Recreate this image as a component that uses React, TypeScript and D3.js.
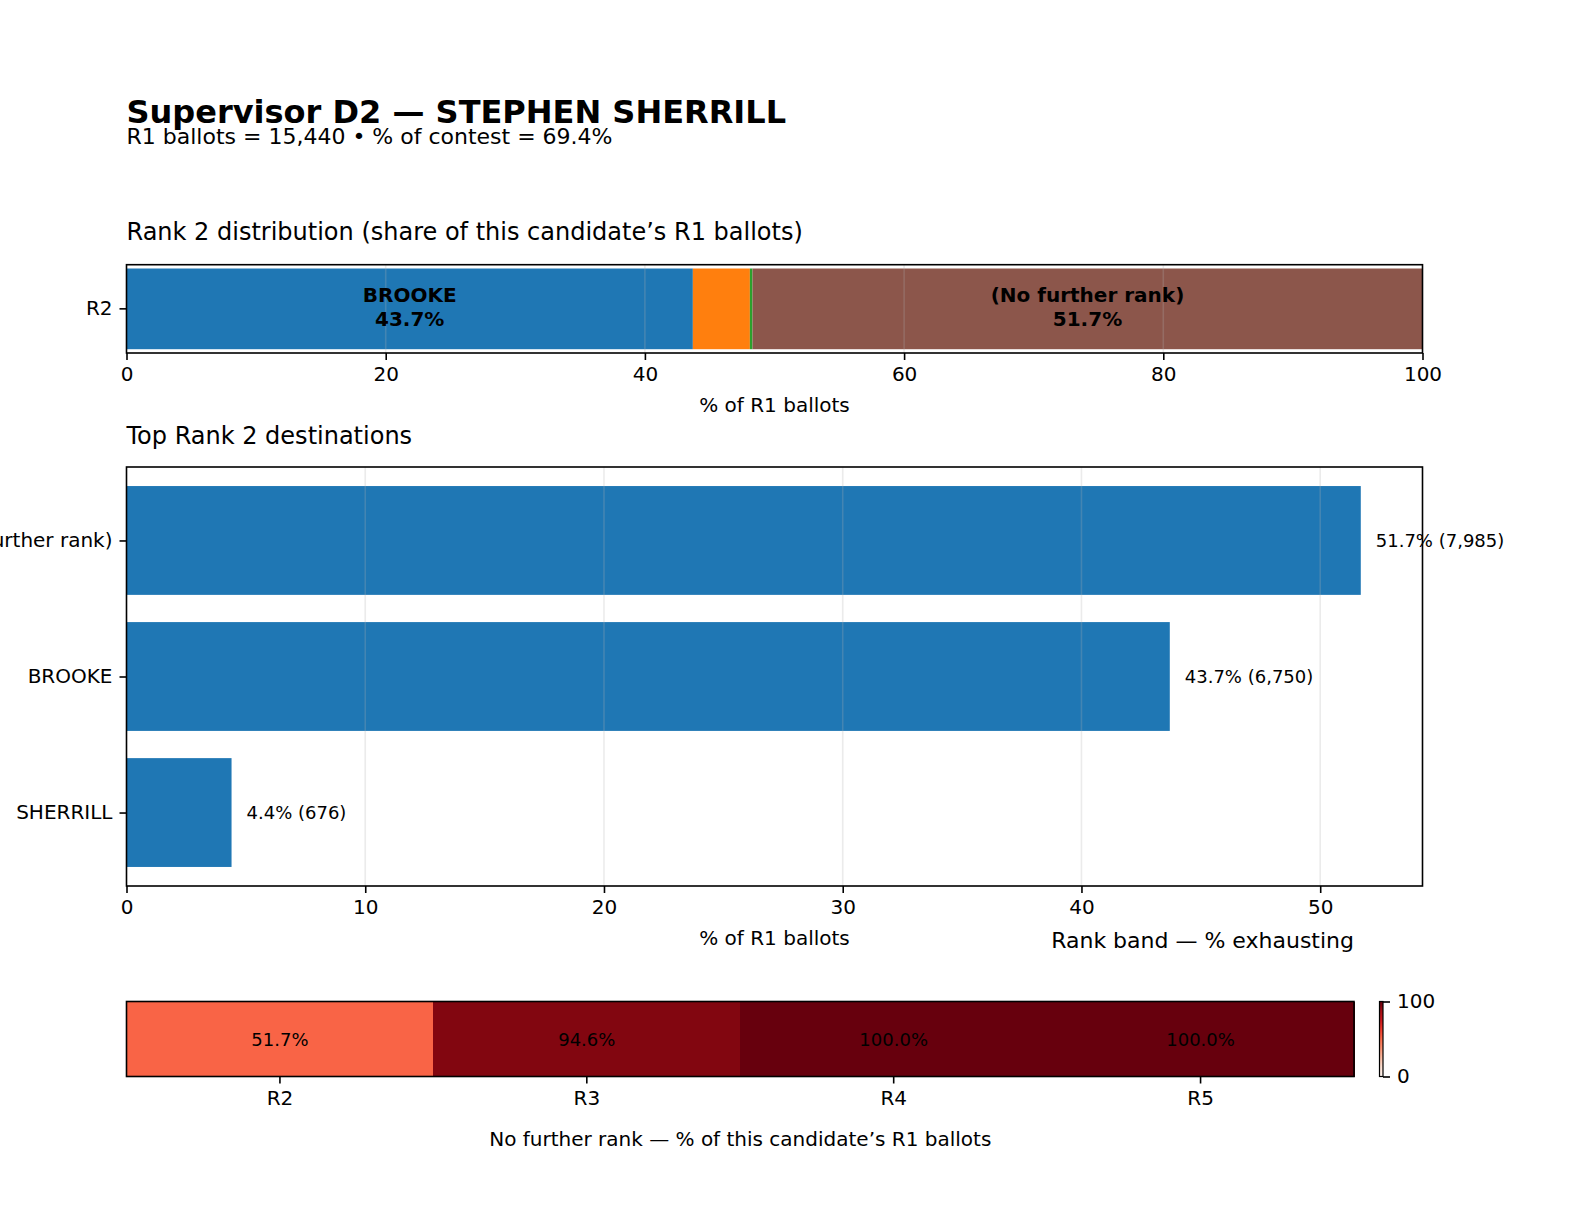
import { useEffect, useRef } from "react";
import * as d3 from "d3";

// title / header
const titleText = "Supervisor D2 — STEPHEN SHERRILL";
const subtitleText = "R1 ballots = 15,440 • % of contest = 69.4%";

// rank 2 distribution (stacked bar)
const r2Categories = ["BROOKE", "SHERRILL", "(Other)", "(No further rank)"];
const r2Shares = [43.7, 4.4, 0.2, 51.7];
const r2Colors = ["#1f77b4", "#ff7f0e", "#2ca02c", "#8c564b"];

// top rank 2 destinations
const topNames = ["(No further rank)", "BROOKE", "SHERRILL"];
const topShares = [51.7, 43.7, 4.4];
const topCounts = [7985, 6750, 676];

// exhausting by rank band
const bands = ["R2", "R3", "R4", "R5"];
const bandExhaust = [51.7, 94.6, 100, 100];

const redsStops = ["#fff5f0", "#fee0d2", "#fcbba1", "#fc9272", "#fb6a4a", "#ef3b2c", "#cb181d", "#a50f15", "#67000d"];

export default function App() {
  const svgRef = useRef<SVGSVGElement | null>(null);

  useEffect(() => {
    const width = 1584;
    const height = 1224;
    const font = "DejaVu Sans, sans-serif";
    const left = 126.5;
    const right = 1422.5;
    const tickLen = 7;
    const spineW = 1.6;
    const tickFont = 20;

    const svg = d3.select(svgRef.current).attr("width", width).attr("height", height);
    svg.selectAll("*").remove();
    svg.append("rect").attr("width", width).attr("height", height).attr("fill", "white");

    const txt = (x: number, y: number, s: string, size: number, anchor = "start", weight = "normal") =>
      svg
        .append("text")
        .attr("x", x)
        .attr("y", y)
        .attr("font-family", font)
        .attr("font-size", size)
        .attr("font-weight", weight)
        .attr("text-anchor", anchor)
        .attr("fill", "black")
        .text(s);

    // header
    txt(left, 123, titleText, 32, "start", "bold");
    txt(left, 144, subtitleText, 22);

    // ---------- Rank 2 distribution ----------
    txt(left, 240, "Rank 2 distribution (share of this candidate\u2019s R1 ballots)", 24);
    const t1 = { top: 264.7, bottom: 353 };
    const x1 = d3.scaleLinear().domain([0, 100]).range([left, right]);
    const ends = Array.from(d3.cumsum(r2Shares));
    const starts = ends.map((e, i) => e - r2Shares[i]);
    const g1 = svg.append("g");
    g1.selectAll("rect.seg")
      .data(r2Shares)
      .join("rect")
      .attr("class", "seg")
      .attr("x", (_, i) => x1(starts[i]))
      .attr("y", t1.top + 3.8)
      .attr("width", (_, i) => x1(ends[i]) - x1(starts[i]))
      .attr("height", t1.bottom - t1.top - 7.6)
      .attr("fill", (_, i) => r2Colors[i]);
    // grid
    g1.selectAll("line.grid")
      .data([20, 40, 60, 80])
      .join("line")
      .attr("x1", d => x1(d))
      .attr("x2", d => x1(d))
      .attr("y1", t1.top)
      .attr("y2", t1.bottom)
      .attr("stroke", "#b0b0b0")
      .attr("stroke-opacity", 0.25)
      .attr("stroke-width", 1.6);
    // inner labels
    const cy1 = (t1.top + t1.bottom) / 2;
    r2Shares.forEach((v, i) => {
      if (v < 10) return;
      const cx = x1(starts[i] + v / 2);
      txt(cx, cy1 - 7, r2Categories[i], 20, "middle", "bold");
      txt(cx, cy1 + 17.5, `${v.toFixed(1)}%`, 20, "middle", "bold");
    });
    g1.append("rect")
      .attr("x", left)
      .attr("y", t1.top)
      .attr("width", right - left)
      .attr("height", t1.bottom - t1.top)
      .attr("fill", "none")
      .attr("stroke", "black")
      .attr("stroke-width", spineW);
    const ax1 = g1
      .append("g")
      .attr("transform", `translate(0,${t1.bottom})`)
      .call(d3.axisBottom(x1).tickValues([0, 20, 40, 60, 80, 100]).tickSize(tickLen).tickPadding(7).tickFormat(d3.format("d")));
    ax1.select(".domain").remove();
    const ay1 = g1
      .append("g")
      .attr("transform", `translate(${left},0)`)
      .call(d3.axisLeft(d3.scaleBand().domain(["R2"]).range([t1.top, t1.bottom])).tickSize(tickLen).tickPadding(7));
    ay1.select(".domain").remove();
    txt((left + right) / 2, 412, "% of R1 ballots", tickFont, "middle");

    // ---------- Top Rank 2 destinations ----------
    txt(left, 444, "Top Rank 2 destinations", 24);
    const t2 = { top: 467, bottom: 886 };
    const x2 = d3.scaleLinear().domain([0, d3.max(topShares)! * 1.05]).range([left, right]);
    const y2 = d3.scaleLinear().domain([-0.54, topNames.length - 1 + 0.54]).range([t2.top, t2.bottom]);
    const g2 = svg.append("g");
    g2.selectAll("rect.bar")
      .data(topShares)
      .join("rect")
      .attr("class", "bar")
      .attr("x", x2(0))
      .attr("y", (_, i) => y2(i - 0.4))
      .attr("width", d => x2(d) - x2(0))
      .attr("height", y2(0.8) - y2(0))
      .attr("fill", "#1f77b4");
    g2.selectAll("line.grid")
      .data([10, 20, 30, 40, 50])
      .join("line")
      .attr("x1", d => x2(d))
      .attr("x2", d => x2(d))
      .attr("y1", t2.top)
      .attr("y2", t2.bottom)
      .attr("stroke", "#b0b0b0")
      .attr("stroke-opacity", 0.25)
      .attr("stroke-width", 1.6);
    g2.append("rect")
      .attr("x", left)
      .attr("y", t2.top)
      .attr("width", right - left)
      .attr("height", t2.bottom - t2.top)
      .attr("fill", "none")
      .attr("stroke", "black")
      .attr("stroke-width", spineW);
    topShares.forEach((v, i) => {
      txt(x2(v) + 15, y2(i), `${v.toFixed(1)}% (${d3.format(",")(topCounts[i])})`, 18).attr(
        "dominant-baseline",
        "central"
      );
    });
    const ax2 = g2
      .append("g")
      .attr("transform", `translate(0,${t2.bottom})`)
      .call(d3.axisBottom(x2).tickValues([0, 10, 20, 30, 40, 50]).tickSize(tickLen).tickPadding(7).tickFormat(d3.format("d")));
    ax2.select(".domain").remove();
    const ay2 = g2
      .append("g")
      .attr("transform", `translate(${left},0)`)
      .call(
        d3
          .axisLeft(y2)
          .tickValues(d3.range(topNames.length))
          .tickFormat(d => topNames[d as number])
          .tickSize(tickLen)
          .tickPadding(7)
      );
    ay2.select(".domain").remove();
    txt((left + right) / 2, 945, "% of R1 ballots", tickFont, "middle");

    // ---------- Rank band heatmap ----------
    const t3 = { top: 1001.5, bottom: 1076.5, right: 1354 };
    txt(t3.right, 948, "Rank band — % exhausting", 22, "end");
    const color = d3
      .scaleLinear<string>()
      .domain(d3.range(redsStops.length).map(i => (i * 100) / (redsStops.length - 1)))
      .range(redsStops)
      .interpolate(d3.interpolateRgb);
    const x3 = d3.scaleBand().domain(bands).range([left, t3.right]);
    const g3 = svg.append("g");
    g3.selectAll("rect.cell")
      .data(bandExhaust)
      .join("rect")
      .attr("class", "cell")
      .attr("x", (_, i) => x3(bands[i])!)
      .attr("y", t3.top)
      .attr("width", x3.bandwidth() + 1)
      .attr("height", t3.bottom - t3.top)
      .attr("shape-rendering", "crispEdges")
      .attr("fill", d => color(d));
    bandExhaust.forEach((v, i) => {
      txt(x3(bands[i])! + x3.bandwidth() / 2, (t3.top + t3.bottom) / 2, `${v.toFixed(1)}%`, 18, "middle").attr(
        "dominant-baseline",
        "central"
      );
    });
    g3.append("rect")
      .attr("x", left)
      .attr("y", t3.top)
      .attr("width", t3.right - left)
      .attr("height", t3.bottom - t3.top)
      .attr("fill", "none")
      .attr("stroke", "black")
      .attr("stroke-width", spineW);
    const ax3 = g3
      .append("g")
      .attr("transform", `translate(0,${t3.bottom})`)
      .call(d3.axisBottom(x3).tickSize(tickLen).tickPadding(7));
    ax3.select(".domain").remove();
    txt((left + t3.right) / 2, 1146, "No further rank — % of this candidate\u2019s R1 ballots", tickFont, "middle");

    // colorbar
    const cb = { x: 1379.5, w: 3.5 };
    const defs = svg.append("defs");
    const grad = defs
      .append("linearGradient")
      .attr("id", "redsGrad")
      .attr("x1", 0)
      .attr("x2", 0)
      .attr("y1", 1)
      .attr("y2", 0);
    redsStops.forEach((c, i) =>
      grad
        .append("stop")
        .attr("offset", i / (redsStops.length - 1))
        .attr("stop-color", c)
    );
    const yc = d3.scaleLinear().domain([0, 100]).range([t3.bottom, t3.top]);
    g3.append("rect")
      .attr("x", cb.x)
      .attr("y", t3.top)
      .attr("width", cb.w)
      .attr("height", t3.bottom - t3.top)
      .attr("fill", "url(#redsGrad)")
      .attr("stroke", "black")
      .attr("stroke-width", 1.2);
    const acb = g3
      .append("g")
      .attr("transform", `translate(${cb.x + cb.w},0)`)
      .call(d3.axisRight(yc).tickValues([0, 100]).tickSize(tickLen).tickPadding(7).tickFormat(d3.format("d")));
    acb.select(".domain").remove();

    // axis styling
    svg
      .selectAll(".tick text")
      .attr("font-family", font)
      .attr("font-size", tickFont)
      .attr("fill", "black");
    svg.selectAll(".tick line").attr("stroke", "black").attr("stroke-width", spineW);
  }, []);

  return (
    <div style={{ position: "absolute", left: 0, top: 0 }}>
      <svg ref={svgRef} style={{ display: "block" }}></svg>
    </div>
  );
}
